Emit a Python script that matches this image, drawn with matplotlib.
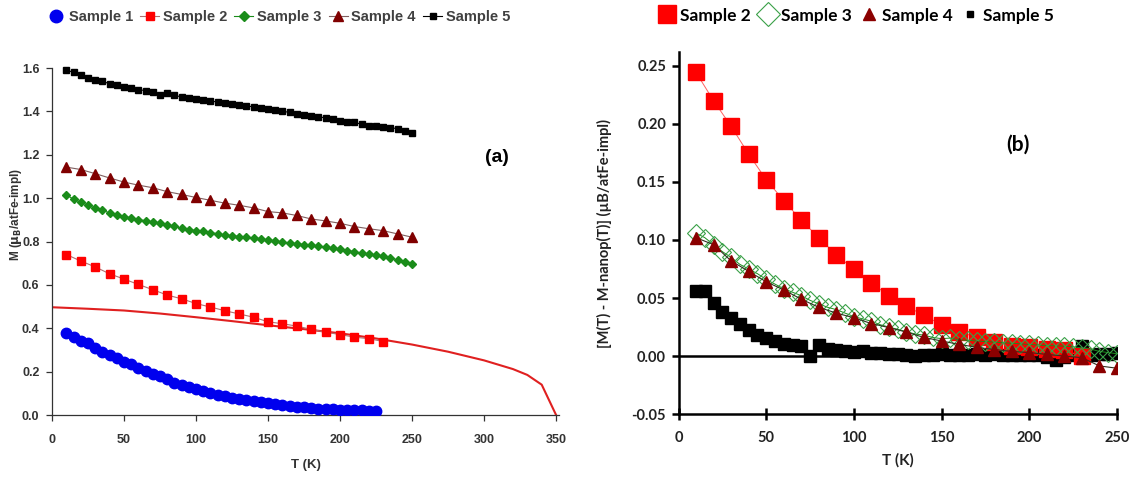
import numpy as np
import matplotlib.pyplot as plt
from matplotlib.lines import Line2D

# ---- panel (a): M(T) ----
T_s1 = list(range(10, 226, 5))
M_s1 = [0.380, 0.361, 0.343, 0.330, 0.310, 0.290, 0.275, 0.261, 0.246, 0.234,
        0.219, 0.204, 0.189, 0.178, 0.166, 0.150, 0.138, 0.128, 0.118, 0.110,
        0.101, 0.094, 0.088, 0.080, 0.074, 0.070, 0.064, 0.058, 0.055, 0.049,
        0.046, 0.041, 0.038, 0.035, 0.032, 0.029, 0.028, 0.026, 0.025, 0.025,
        0.023, 0.021, 0.020, 0.020]

T_s2 = list(range(10, 231, 10))
M_s2 = [0.740, 0.710, 0.683, 0.651, 0.627, 0.602, 0.578, 0.553, 0.536, 0.514,
        0.498, 0.481, 0.466, 0.451, 0.430, 0.421, 0.410, 0.395, 0.382, 0.371,
        0.359, 0.352, 0.339]

T_s3 = list(range(10, 251, 5))
M_s3 = [1.015, 0.995, 0.981, 0.968, 0.953, 0.944, 0.932, 0.923, 0.913, 0.910,
        0.901, 0.896, 0.889, 0.884, 0.875, 0.870, 0.861, 0.855, 0.850, 0.847,
        0.841, 0.836, 0.830, 0.827, 0.823, 0.820, 0.815, 0.811, 0.806, 0.803,
        0.797, 0.794, 0.790, 0.786, 0.782, 0.778, 0.773, 0.768, 0.764, 0.758,
        0.753, 0.747, 0.743, 0.737, 0.731, 0.725, 0.715, 0.705, 0.695]

T_s4 = list(range(10, 251, 10))
M_s4 = [1.143, 1.132, 1.113, 1.093, 1.074, 1.060, 1.048, 1.030, 1.017, 1.003,
        0.990, 0.977, 0.967, 0.955, 0.938, 0.932, 0.920, 0.904, 0.895, 0.884,
        0.869, 0.859, 0.850, 0.835, 0.820]

T_s5 = list(range(10, 251, 5))
M_s5 = [1.589, 1.581, 1.570, 1.555, 1.544, 1.538, 1.528, 1.522, 1.513, 1.507,
        1.500, 1.496, 1.488, 1.476, 1.484, 1.476, 1.465, 1.460, 1.457, 1.453,
        1.448, 1.443, 1.439, 1.434, 1.429, 1.425, 1.421, 1.417, 1.411, 1.406,
        1.401, 1.395, 1.390, 1.383, 1.378, 1.375, 1.370, 1.364, 1.356, 1.353,
        1.349, 1.341, 1.333, 1.332, 1.327, 1.325, 1.320, 1.310, 1.300]

# nanoparticle curve
T_nano = [0, 25, 50, 75, 100, 125, 150, 175, 200, 225, 250, 275, 300, 320, 330, 340, 350]
M_nano = [0.497, 0.490, 0.482, 0.468, 0.451, 0.433, 0.414, 0.396, 0.377, 0.353,
          0.325, 0.292, 0.252, 0.212, 0.185, 0.140, 0.0]

# ---- panel (b): M(T) - M_nanop(T) ----
Tb_s2 = list(range(10, 231, 10))
D_s2 = [0.2444, 0.220, 0.198, 0.174, 0.152, 0.134, 0.117, 0.102, 0.087, 0.075,
        0.063, 0.052, 0.043, 0.035, 0.027, 0.021, 0.016, 0.012, 0.009, 0.0076,
        0.006, 0.005, 0.000]

Tb_s3 = list(range(10, 251, 5))
D_s3 = [0.106, 0.102, 0.096, 0.090, 0.085, 0.079, 0.075, 0.071, 0.066, 0.062,
        0.058, 0.055, 0.052, 0.048, 0.045, 0.042, 0.040, 0.037, 0.034, 0.032,
        0.030, 0.027, 0.025, 0.023, 0.021, 0.019, 0.018, 0.016, 0.015, 0.0155,
        0.014, 0.0135, 0.013, 0.0125, 0.012, 0.0115, 0.011, 0.0105, 0.010, 0.0095,
        0.009, 0.0088, 0.0085, 0.008, 0.007, 0.006, 0.004, 0.003, 0.002]

Tb_s4 = list(range(10, 251, 10))
D_s4 = [0.102, 0.096, 0.082, 0.073, 0.064, 0.057, 0.049, 0.042, 0.037, 0.033,
        0.028, 0.0245, 0.0206, 0.016, 0.013, 0.010, 0.0076, 0.0056, 0.004, 0.003,
        0.0014, 0.0, -0.0014, -0.0085, -0.0105]

Tb_s5 = list(range(10, 251, 5))
D_s5 = [0.0557, 0.0557, 0.046, 0.038, 0.0325, 0.028, 0.0226, 0.0184, 0.0155, 0.0127,
        0.0105, 0.0093, 0.0085, 0.000, 0.0099, 0.0062, 0.0048, 0.004, 0.0035, 0.004,
        0.003, 0.003, 0.002, 0.002, 0.001, 0.0, 0.001, 0.0005, 0.002, 0.001,
        0.001, 0.001, 0.0015, 0.001, 0.0015, 0.001, 0.001, 0.0005, 0.001, 0.0005,
        -0.001, -0.003, -0.001, 0.001, 0.0085, 0.001, 0.002, 0.002, 0.003]

FONT_A = ["Liberation Sans", "DejaVu Sans"]
FONT_B = ["Lato", "DejaVu Sans"]

fig = plt.figure(figsize=(11.35, 4.86), dpi=100)

# ---------------- panel (a) ----------------
ax = fig.add_axes([0.0458, 0.146, 0.4467, 0.723])
ax.plot(T_nano, M_nano, color="#e02020", lw=1.5, zorder=2)
ax.plot(T_s1, M_s1, ls="none", marker="o", ms=7.5, color="#0000ee", zorder=3)
ax.plot(T_s2, M_s2, color="#b07070", lw=0.8, marker="s", ms=5.5, mfc="#ff0000",
        mec="#ff0000", zorder=3)
ax.plot(T_s3, M_s3, color="#1a8c1a", lw=0.8, marker="D", ms=4.5, zorder=3)
ax.plot(T_s4, M_s4, color="#806060", lw=0.8, marker="^", ms=6.5, mfc="#800000",
        mec="#800000", zorder=3)
ax.plot(T_s5, M_s5, color="black", lw=0.8, marker="s", ms=4, zorder=3)

ax.set_xlim(0, 352)
ax.set_ylim(0, 1.62)
ax.set_xticks(range(0, 351, 50))
ax.set_yticks(np.arange(0, 1.61, 0.2))
ax.set_yticklabels([f"{v:.1f}" for v in np.arange(0, 1.61, 0.2)])
for s in ["top", "right"]:
    ax.spines[s].set_visible(False)
for s in ["left", "bottom"]:
    ax.spines[s].set_color("#333333")
    ax.spines[s].set_linewidth(0.9)
ax.spines["left"].set_bounds(0, 1.6)
ax.tick_params(direction="out", length=4, width=0.9, color="#333333",
               labelsize=9, pad=5)
ax.tick_params(axis="x", pad=10)
for lab in ax.get_xticklabels() + ax.get_yticklabels():
    lab.set_family(FONT_A)
    lab.set_fontweight("bold")
    lab.set_color("#333333")
ax.set_xlabel("T (K)", family=FONT_A, fontweight="bold", fontsize=9.5,
              color="#333333", labelpad=9)
ax.set_ylabel(r"M ($\mathbf{\mu_B}$/atFe-impl)", family=FONT_A, fontweight="bold",
              fontsize=8.5, color="#333333")
ax.yaxis.set_label_coords(-0.055, 0.57)
ax.text(309, 1.186, "(a)", family=FONT_A, fontweight="bold", fontsize=14,
        ha="center", va="center")

handles_a = [
    Line2D([], [], ls="none", marker="o", ms=9, color="#0000ee"),
    Line2D([], [], color="#b07070", lw=0.8, marker="s", ms=6, mfc="#ff0000", mec="#ff0000"),
    Line2D([], [], color="#1a8c1a", lw=0.8, marker="D", ms=5),
    Line2D([], [], color="#806060", lw=0.8, marker="^", ms=7, mfc="#800000", mec="#800000"),
    Line2D([], [], color="black", lw=0.8, marker="s", ms=4.5),
]
leg_a = fig.legend(handles_a, ["Sample 1", "Sample 2", "Sample 3", "Sample 4", "Sample 5"],
                   loc="center", bbox_to_anchor=(0.245, 0.965), ncol=5, frameon=False,
                   handlelength=1.3, handletextpad=0.25, columnspacing=0.5,
                   prop={"family": FONT_A, "weight": "bold", "size": 10.5})
for t in leg_a.get_texts():
    t.set_color("#404040")

# ---------------- panel (b) ----------------
bx = fig.add_axes([0.5978, 0.148, 0.3863, 0.745])
bx.axhline(0, color="black", lw=1.8, zorder=1)
bx.plot(Tb_s2, D_s2, color="#ff6060", lw=0.7, marker="s", ms=12, mfc="#ff0000",
        mec="#ff0000", zorder=3)
bx.plot(Tb_s3, D_s3, color="#1a8c1a", lw=0.7, marker="D", ms=9.5, mfc="none",
        mec="#3aa048", mew=0.8, zorder=4)
bx.plot(Tb_s4, D_s4, color="#303020", lw=0.8, marker="^", ms=8, mfc="#8b0000",
        mec="#8b0000", zorder=5)
bx.plot(Tb_s5, D_s5, ls="none", marker="s", ms=8.5, color="black", zorder=2)

bx.set_xlim(0, 250)
bx.set_ylim(-0.05, 0.262)
bx.set_xticks(range(0, 251, 50))
bx.set_yticks(np.arange(-0.05, 0.251, 0.05))
bx.set_yticklabels([f"{v:.2f}" for v in np.arange(-0.05, 0.251, 0.05)])
for s in ["top", "right"]:
    bx.spines[s].set_visible(False)
for s in ["left", "bottom"]:
    bx.spines[s].set_linewidth(1.8)
bx.tick_params(axis="y", direction="out", length=5, width=1.8, labelsize=10.5, pad=4)
bx.tick_params(axis="x", direction="inout", length=8, width=1.8, labelsize=10.5, pad=8)
for lab in bx.get_xticklabels() + bx.get_yticklabels():
    lab.set_family(FONT_B)
    lab.set_fontweight("bold")
    lab.set_color("#222222")
bx.set_xlabel("T (K)", family=FONT_B, fontweight="bold", fontsize=11,
              color="#222222", labelpad=6)
bx.set_ylabel("[M(T) - M-nanop(T)] (µB/atFe-impl)", family=FONT_B,
              fontweight="bold", fontsize=10.5, color="#222222", labelpad=14)
bx.text(193.5, 0.182, "(b)", family=FONT_B, fontweight="bold", fontsize=15,
        ha="center", va="center")

handles_b = [
    Line2D([], [], ls="none", marker="s", ms=13, color="#ff0000"),
    Line2D([], [], ls="none", marker="D", ms=12, mfc="none", mec="#3aa048", mew=0.8),
    Line2D([], [], ls="none", marker="^", ms=8, color="#8b0000"),
    Line2D([], [], ls="none", marker="s", ms=5, color="black"),
]
fig.legend(handles_b, ["Sample 2", "Sample 3", "Sample 4", "Sample 5"],
           loc="center", bbox_to_anchor=(0.755, 0.968), ncol=4, frameon=False,
           handlelength=0.8, handletextpad=0.35, columnspacing=0.6,
           prop={"family": FONT_B, "weight": "bold", "size": 12.5})

fig.savefig("out.png", dpi=100)
